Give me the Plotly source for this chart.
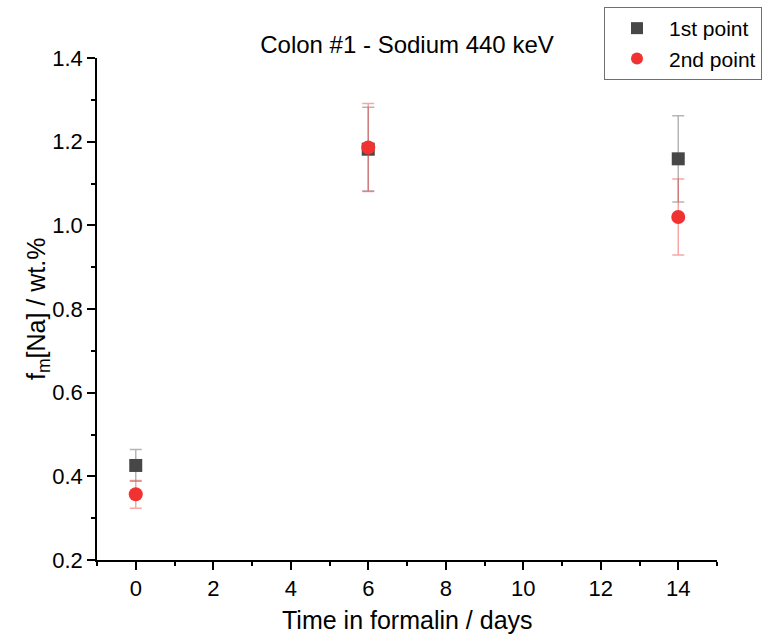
import plotly.graph_objects as go

days = [0, 6, 14]
first_vals = [0.426, 1.182, 1.159]
first_err = [0.038, 0.100, 0.103]
second_vals = [0.357, 1.186, 1.020]
second_err = [0.033, 0.105, 0.091]

x_ticks = [0, 2, 4, 6, 8, 10, 12, 14]
y_ticks = [0.2, 0.4, 0.6, 0.8, 1.0, 1.2, 1.4]

FONT = "Liberation Sans, Arial, sans-serif"
W, H = 763, 639
L, R, T, B = 97, 46, 58, 79

fig = go.Figure()
fig.add_trace(go.Scatter(
    x=days, y=first_vals, mode="markers", name="1st point",
    marker=dict(symbol="square", size=13, color="#474747"),
    error_y=dict(type="data", array=first_err, color="rgba(120,120,120,0.55)",
                 thickness=1.5, width=6),
))
fig.add_trace(go.Scatter(
    x=days, y=second_vals, mode="markers", name="2nd point",
    marker=dict(symbol="circle", size=14, color="#f03232"),
    error_y=dict(type="data", array=second_err, color="rgba(240,60,60,0.45)",
                 thickness=1.5, width=6),
))

axis_common = dict(
    showgrid=False, zeroline=False, showline=True, linecolor="black", linewidth=1.5,
    ticks="outside", ticklen=8, tickwidth=1.5, tickcolor="black",
    tickfont=dict(family=FONT, size=22, color="black"),
    automargin=False,
)

fig.update_layout(
    width=W, height=H,
    margin=dict(l=L, r=R, t=T, b=B, autoexpand=False),
    paper_bgcolor="white", plot_bgcolor="white",
    font=dict(family=FONT, color="black"),
    title=dict(text="Colon #1 - Sodium 440 keV", x=(L + (W - L - R) / 2) / W, xref="container",
               xanchor="center", y=1 - 45 / H, yref="container", yanchor="middle",
               font=dict(family=FONT, size=24, color="black")),
    xaxis=dict(range=[-1, 15], tickmode="array", tickvals=x_ticks,
               ticktext=[str(v) for v in x_ticks],
               minor=dict(ticks="outside", ticklen=4, tickwidth=1.5, tickcolor="black",
                          dtick=1, tick0=0),
               **axis_common),
    yaxis=dict(range=[0.2, 1.4], tickmode="array", tickvals=y_ticks,
               ticktext=[f"{v:.1f}" for v in y_ticks],
               minor=dict(ticks="outside", ticklen=4, tickwidth=1.5, tickcolor="black",
                          dtick=0.1, tick0=0.2),
               **axis_common),
    showlegend=True,
    legend=dict(xref="container", yref="container", x=604 / W, y=1 - 7 / H,
                xanchor="left", yanchor="top",
                bgcolor="white", bordercolor="#707070", borderwidth=1,
                font=dict(family=FONT, size=21, color="black"),
                itemsizing="constant", tracegroupgap=0, itemwidth=54),
    annotations=[
        dict(text="Time in formalin / days", xref="paper", yref="paper",
             x=0.5, y=-(620 - (H - B)) / (H - T - B), xanchor="center", yanchor="middle",
             showarrow=False, font=dict(family=FONT, size=25, color="black")),
        dict(text="f<sub>m</sub>[Na] / wt.%", xref="paper", yref="paper",
             x=-(L - 38) / (W - L - R), y=0.5, xanchor="center", yanchor="middle",
             textangle=-90, showarrow=False, font=dict(family=FONT, size=25, color="black")),
    ],
)

fig.write_html("out.html", config={"displayModeBar": False},
               post_script="document.body.style.margin='0px';")
